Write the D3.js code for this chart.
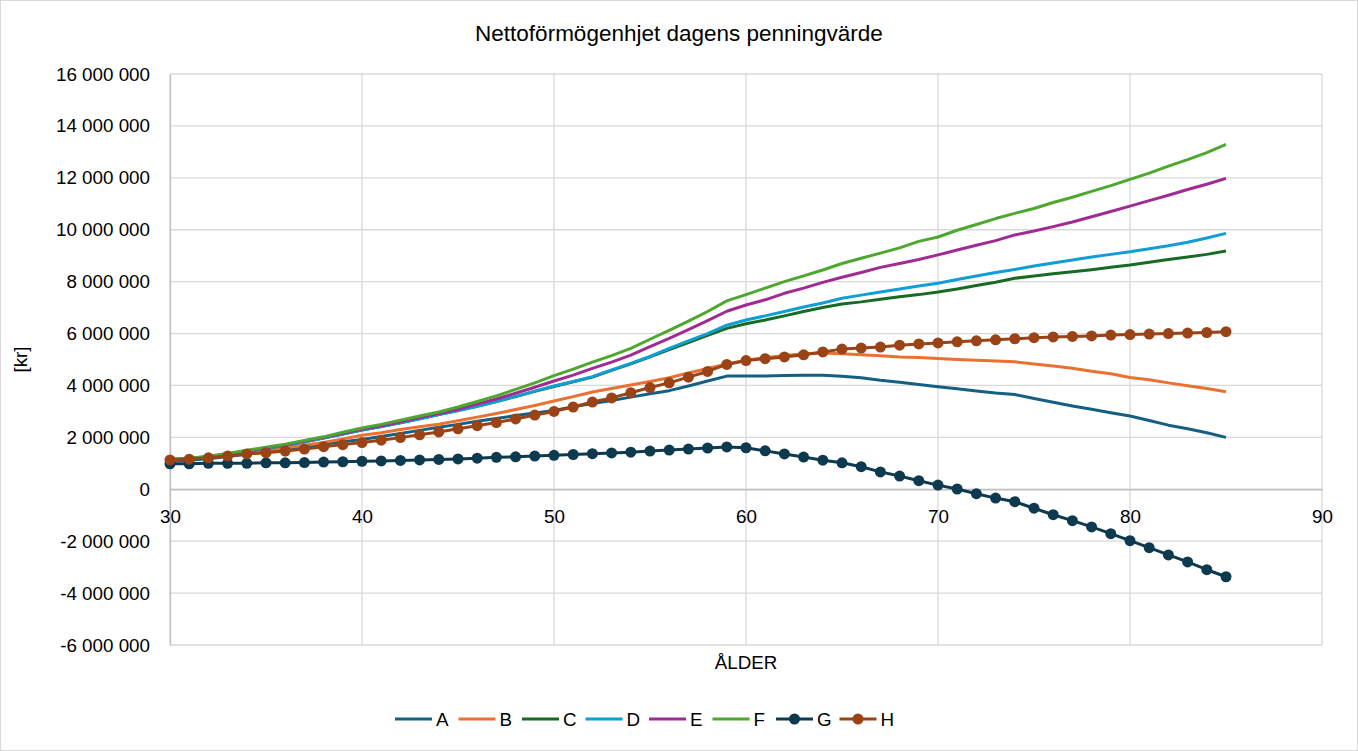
<!DOCTYPE html>
<html>
<head>
<meta charset="utf-8">
<script src="https://cdn.jsdelivr.net/npm/d3@7"></script>
<style>
  html, body { margin: 0; padding: 0; background: #fff; }
  svg text { font-family: "Liberation Sans", Arial, sans-serif; fill: #000; }
</style>
</head>
<body>
<div id="chart"></div>
<script>
// ages on the x axis
var ages = d3.range(30, 86);

// series values, millions of kr
var seriesA = [1.08,1.12,1.18,1.26,1.35,1.45,1.55,1.64,1.73,1.83,1.92,2.03,2.15,2.27,2.39,2.5,2.62,2.73,2.84,2.94,
  3.04,3.18,3.3,3.42,3.55,3.68,3.8,3.98,4.17,4.36,4.36,4.36,4.38,4.39,4.39,4.35,4.3,4.2,4.12,4.04,
  3.95,3.87,3.79,3.71,3.65,3.5,3.35,3.21,3.08,2.95,2.82,2.65,2.47,2.33,2.18,2.0];
var seriesB = [1.12,1.16,1.22,1.3,1.4,1.5,1.6,1.7,1.8,1.94,2.08,2.18,2.3,2.41,2.51,2.64,2.78,2.92,3.07,3.23,
  3.4,3.57,3.75,3.88,4.02,4.15,4.3,4.48,4.65,4.83,4.97,5.07,5.15,5.22,5.25,5.22,5.18,5.14,5.1,5.08,
  5.04,5.0,4.97,4.94,4.91,4.83,4.75,4.66,4.55,4.45,4.31,4.22,4.1,3.99,3.88,3.76];
var seriesC = [1.15,1.18,1.25,1.35,1.46,1.58,1.7,1.83,1.97,2.13,2.28,2.42,2.56,2.72,2.88,3.03,3.2,3.38,3.57,3.77,
  3.96,4.14,4.32,4.58,4.83,5.1,5.38,5.65,5.93,6.2,6.38,6.52,6.68,6.85,7.0,7.14,7.22,7.32,7.42,7.5,
  7.6,7.72,7.85,7.98,8.13,8.22,8.3,8.38,8.46,8.55,8.64,8.75,8.85,8.95,9.05,9.18];
var seriesD = [1.15,1.18,1.25,1.35,1.46,1.58,1.7,1.83,1.97,2.13,2.28,2.42,2.56,2.72,2.88,3.03,3.2,3.38,3.57,3.78,
  3.98,4.15,4.34,4.6,4.85,5.12,5.43,5.72,6.0,6.32,6.52,6.68,6.85,7.02,7.18,7.36,7.48,7.6,7.72,7.83,
  7.94,8.08,8.22,8.35,8.47,8.6,8.72,8.83,8.95,9.05,9.15,9.27,9.38,9.52,9.68,9.86];
var seriesE = [1.15,1.19,1.26,1.36,1.47,1.6,1.72,1.86,2.0,2.16,2.32,2.45,2.6,2.76,2.92,3.08,3.28,3.48,3.7,3.93,
  4.17,4.4,4.66,4.9,5.17,5.5,5.81,6.15,6.5,6.86,7.1,7.3,7.55,7.75,7.97,8.17,8.35,8.55,8.7,8.85,
  9.03,9.22,9.4,9.58,9.8,9.95,10.12,10.3,10.5,10.7,10.91,11.12,11.33,11.55,11.75,11.98];
var seriesF = [1.15,1.2,1.27,1.38,1.5,1.62,1.74,1.88,2.02,2.2,2.36,2.5,2.66,2.82,2.98,3.17,3.38,3.6,3.85,4.1,
  4.38,4.63,4.9,5.15,5.43,5.78,6.12,6.48,6.85,7.26,7.5,7.75,8.0,8.22,8.45,8.7,8.9,9.1,9.3,9.55,
  9.72,9.98,10.2,10.43,10.63,10.82,11.05,11.25,11.48,11.7,11.94,12.18,12.45,12.7,12.97,13.29];
var seriesG = [0.98,0.98,1.0,1.0,1.0,1.02,1.02,1.03,1.05,1.06,1.08,1.09,1.11,1.13,1.15,1.17,1.2,1.23,1.25,1.28,
  1.31,1.34,1.37,1.4,1.43,1.47,1.51,1.55,1.59,1.63,1.6,1.48,1.36,1.24,1.12,1.02,0.87,0.67,0.51,0.33,
  0.16,0.01,-0.17,-0.34,-0.48,-0.73,-0.98,-1.21,-1.45,-1.71,-1.98,-2.25,-2.53,-2.8,-3.1,-3.37];
var seriesH = [1.13,1.16,1.21,1.28,1.36,1.41,1.47,1.55,1.64,1.72,1.8,1.89,1.99,2.1,2.21,2.33,2.45,2.57,2.71,2.86,
  3.0,3.17,3.36,3.52,3.72,3.92,4.1,4.32,4.54,4.81,4.96,5.03,5.1,5.18,5.29,5.4,5.44,5.48,5.55,5.6,
  5.64,5.68,5.72,5.76,5.8,5.84,5.87,5.89,5.91,5.94,5.96,5.98,6.0,6.02,6.04,6.07];

var seriesNames = ["A", "B", "C", "D", "E", "F", "G", "H"];
var seriesColors = ["#156082", "#e97132", "#196b24", "#0f9ed5", "#a02b93", "#4ea72e", "#0d3a4e", "#9a4316"];
var seriesMarkers = [false, false, false, false, false, false, true, true];
var seriesValues = [seriesA, seriesB, seriesC, seriesD, seriesE, seriesF, seriesG, seriesH];

var xTicks = [30, 40, 50, 60, 70, 80, 90];
var yTicks = d3.range(-6e6, 16e6 + 1, 2e6);

var title = "Nettoförmögenhjet dagens penningvärde";
var xTitle = "ÅLDER";
var yTitle = "[kr]";

// layout
var width = 1358,
  height = 751,
  margin = {left: 170, top: 74, right: 36, bottom: 106},
  plotW = width - margin.left - margin.right,
  plotH = height - margin.top - margin.bottom;

var svg = d3.select("#chart").append("svg")
  .attr("width", width)
  .attr("height", height);

// chart frame
svg.append("rect")
  .attr("x", 0.5).attr("y", 0.5)
  .attr("width", width - 1).attr("height", height - 1)
  .attr("fill", "#fff").attr("stroke", "#d9d9d9");

var x = d3.scaleLinear().domain([30, 90]).range([0, plotW]);
var y = d3.scaleLinear().domain([-6e6, 16e6]).range([plotH, 0]);

var locale = d3.formatLocale({decimal: ",", thousands: " ", grouping: [3], currency: ["", " kr"], minus: "-"});
var fmt = locale.format(",.0f");

var g = svg.append("g").attr("transform", "translate(" + margin.left + "," + margin.top + ")");

// gridlines
g.append("g").selectAll("line.h").data(yTicks).enter().append("line")
  .attr("x1", 0).attr("x2", plotW)
  .attr("y1", function(d) { return y(d); }).attr("y2", function(d) { return y(d); })
  .attr("stroke", "#d9d9d9").attr("stroke-width", 1.3);
g.append("g").selectAll("line.v").data(xTicks).enter().append("line")
  .attr("y1", 0).attr("y2", plotH)
  .attr("x1", function(d) { return x(d); }).attr("x2", function(d) { return x(d); })
  .attr("stroke", "#d9d9d9").attr("stroke-width", 1.3);

// y axis labels
var yAxis = g.append("g")
  .call(d3.axisLeft(y).tickValues(yTicks).tickFormat(fmt).tickSize(0).tickPadding(20));
yAxis.select(".domain").attr("stroke", "#bfbfbf").attr("stroke-width", 1.3);
yAxis.selectAll("text").style("font-size", "18.8px").style("fill", "#000");

// x axis at zero
var xAxis = g.append("g")
  .attr("transform", "translate(0," + y(0) + ")")
  .call(d3.axisBottom(x).tickValues(xTicks).tickSize(0).tickPadding(20));
xAxis.select(".domain").attr("stroke", "#bfbfbf").attr("stroke-width", 1.3);
xAxis.selectAll("text").style("font-size", "18.8px").style("fill", "#000");

// lines
var line = d3.line()
  .x(function(d, i) { return x(ages[i]); })
  .y(function(d) { return y(d * 1e6); });

seriesValues.forEach(function(vals, k) {
  g.append("path")
    .datum(vals)
    .attr("d", line)
    .attr("fill", "none")
    .attr("stroke", seriesColors[k])
    .attr("stroke-width", 3)
    .attr("stroke-linejoin", "round");
  if (seriesMarkers[k]) {
    g.append("g").selectAll("circle").data(vals).enter().append("circle")
      .attr("cx", function(d, i) { return x(ages[i]); })
      .attr("cy", function(d) { return y(d * 1e6); })
      .attr("r", 5.5)
      .attr("fill", seriesColors[k]);
  }
});

// titles
svg.append("text")
  .attr("x", 679).attr("y", 41)
  .attr("text-anchor", "middle")
  .style("font-size", "22.5px")
  .text(title);

svg.append("text")
  .attr("x", margin.left + plotW / 2).attr("y", 669)
  .attr("text-anchor", "middle")
  .style("font-size", "18.8px")
  .text(xTitle);

svg.append("text")
  .attr("transform", "translate(27," + (margin.top + plotH / 2) + ") rotate(-90)")
  .attr("text-anchor", "middle")
  .style("font-size", "18.8px")
  .text(yTitle);

// legend
var legend = svg.append("g").attr("transform", "translate(395,719)");
var item = legend.selectAll("g").data(seriesNames).enter().append("g")
  .attr("transform", function(d, i) { return "translate(" + (i * 63.5) + ",0)"; });
item.append("line")
  .attr("x1", 0).attr("x2", 37)
  .attr("stroke", function(d, i) { return seriesColors[i]; })
  .attr("stroke-width", 3);
item.filter(function(d, i) { return seriesMarkers[i]; }).append("circle")
  .attr("cx", 18.5).attr("r", 5.5)
  .attr("fill", function(d) { return seriesColors[seriesNames.indexOf(d)]; });
item.append("text")
  .attr("x", 41).attr("y", 7)
  .style("font-size", "18.8px")
  .text(function(d) { return d; });
</script>
</body>
</html>
